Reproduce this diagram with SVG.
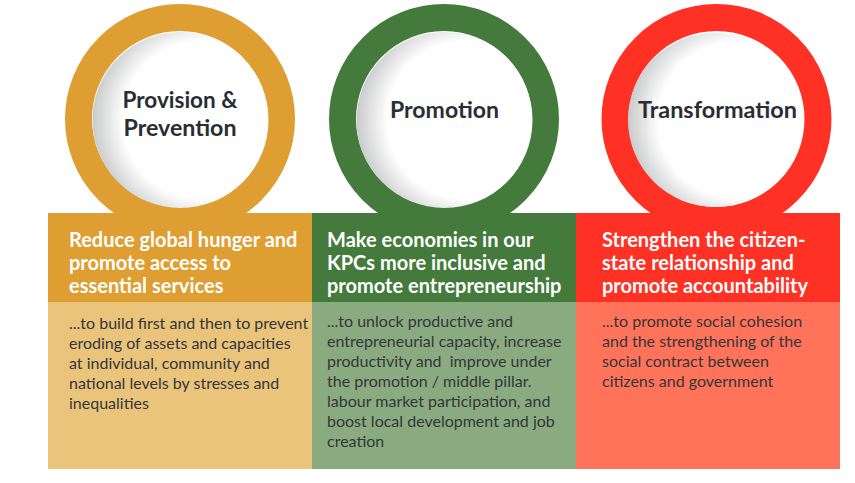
<svg xmlns="http://www.w3.org/2000/svg" width="855" height="483" viewBox="0 0 855 483">
<defs>
<radialGradient id="shade" cx="0.62" cy="0.5" r="0.62">
<stop offset="0.72" stop-color="#ffffff"/>
<stop offset="1" stop-color="#c9cacb"/>
</radialGradient>
<style>
.title{font-family:Lato,"Liberation Sans",sans-serif;font-weight:bold;font-size:22.5px;fill:#2a2d33;text-anchor:middle}
.head{font-family:Lato,"Liberation Sans",sans-serif;font-weight:bold;font-size:20px;fill:#ffffff}
.body{font-family:Lato,"Liberation Sans",sans-serif;font-size:16px;fill:#33363a}
</style>
</defs>
<rect width="855" height="483" fill="#ffffff"/>
<g id="connectors"></g>
<g id="provision">
<circle cx="180" cy="119" r="101.5" fill="none" stroke="#DE9E31" stroke-width="27"/>
<circle cx="180.5" cy="120" r="88" fill="url(#shade)"/>
<text class="title" x="180" y="108" textLength="115" lengthAdjust="spacingAndGlyphs">Provision &amp;</text>
<text class="title" x="180" y="136" textLength="113" lengthAdjust="spacingAndGlyphs">Prevention</text>
<rect x="48" y="213" width="264" height="89" fill="#DE9E31"/>
<rect x="48" y="302" width="264" height="167" fill="#EAC47B"/>
<text class="head" x="69" y="247">Reduce global hunger and</text>
<text class="head" x="69" y="270">promote access to</text>
<text class="head" x="69" y="293">essential services</text>
<text class="body" x="69" y="329">...to build first and then to prevent</text>
<text class="body" x="69" y="349">eroding of assets and capacities</text>
<text class="body" x="69" y="369">at individual, community and</text>
<text class="body" x="69" y="389">national levels by stresses and</text>
<text class="body" x="69" y="409">inequalities</text>
</g>
<g id="promotion">
<circle cx="444" cy="119" r="101.5" fill="none" stroke="#447A3C" stroke-width="27"/>
<circle cx="444.5" cy="120" r="88" fill="url(#shade)"/>
<text class="title" x="444.5" y="118" textLength="109" lengthAdjust="spacingAndGlyphs">Promotion</text>
<rect x="312" y="213" width="264" height="89" fill="#447A3C"/>
<rect x="312" y="302" width="264" height="167" fill="#8AAB7F"/>
<text class="head" x="327" y="247">Make economies in our</text>
<text class="head" x="327" y="270">KPCs more inclusive and</text>
<text class="head" x="327" y="293">promote entrepreneurship</text>
<text class="body" x="327" y="327">...to unlock productive and</text>
<text class="body" x="327" y="347">entrepreneurial capacity, increase</text>
<text class="body" x="327" y="367" xml:space="preserve">productivity and  improve under</text>
<text class="body" x="327" y="387">the promotion / middle pillar.</text>
<text class="body" x="327" y="407">labour market participation, and</text>
<text class="body" x="327" y="427">boost local development and job</text>
<text class="body" x="327" y="447">creation</text>
</g>
<g id="transformation">
<circle cx="716.5" cy="119" r="101.5" fill="none" stroke="#FF3124" stroke-width="27"/>
<circle cx="715" cy="120" r="87" fill="url(#shade)"/>
<text class="title" x="717.5" y="118" textLength="159" lengthAdjust="spacingAndGlyphs">Transformation</text>
<rect x="576" y="213" width="264" height="89" fill="#FF3124"/>
<rect x="576" y="302" width="264" height="167" fill="#FF735B"/>
<text class="head" x="602" y="247">Strengthen the citizen-</text>
<text class="head" x="602" y="270">state relationship and</text>
<text class="head" x="602" y="293">promote accountability</text>
<text class="body" x="602" y="327">...to promote social cohesion</text>
<text class="body" x="602" y="347">and the strengthening of the</text>
<text class="body" x="602" y="367">social contract between</text>
<text class="body" x="602" y="387">citizens and government</text>
</g>
</svg>
